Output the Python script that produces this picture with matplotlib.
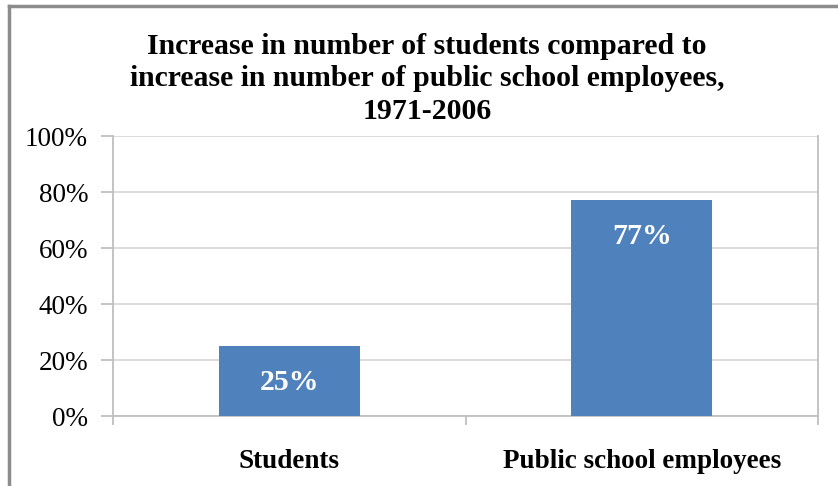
import matplotlib
matplotlib.use("Agg")
import matplotlib.pyplot as plt
from matplotlib.lines import Line2D

categories = ["Students", "Public school employees"]
values = [25, 77]
yticks = [0, 20, 40, 60, 80, 100]
title = "Increase in number of students compared to\nincrease in number of public school employees,\n1971-2006"

plt.rcParams['font.family'] = ['Liberation Serif', 'DejaVu Serif']

W, H = 838, 486
fig = plt.figure(figsize=(W/100, H/100), dpi=100)
ax = fig.add_axes([113/W, 1-416/H, (818-113)/W, (416-136)/H])

x = list(range(len(categories)))
bars = ax.bar(x, values, width=0.4, color="#4F81BD", zorder=3)
ax.set_xlim(-0.5, len(categories)-0.5)
ax.set_ylim(0, 100)
ax.set_yticks(yticks)
ax.set_yticklabels([f"{v}%" for v in yticks], fontsize=19.5)
ax.yaxis.grid(True, color="#D9D9D9", linewidth=1.3, zorder=0)
ax.set_xticks(x)
ax.set_xticklabels(categories, fontsize=19.5, fontweight="bold")
ax.tick_params(axis="x", length=0, pad=24)
ax.tick_params(axis="y", length=9, color="#BFBFBF", width=1.3, pad=9)
for s in ["top"]:
    ax.spines[s].set_visible(False)
for s in ["left", "bottom", "right"]:
    ax.spines[s].set_color("#BFBFBF")
    ax.spines[s].set_linewidth(1.3)

# category separator ticks
for b in [-0.5, 0.5, 1.5]:
    ax.plot([b, b], [0, -2.7], color="#BFBFBF", lw=1.3, clip_on=False, transform=ax.transData)

for rect, v in zip(bars, values):
    ax.text(rect.get_x()+rect.get_width()/2, v-13, f"{v}%", ha="center", va="center",
            color="white", fontsize=21.5, fontweight="bold", zorder=4)

fig.text(427/W, 1-79/H, title, ha="center", va="center", fontsize=21.4, fontweight="bold",
         linespacing=1.27)

# figure border (top & left)
fig.add_artist(Line2D([9/W, 9/W], [0, 1-6/H], transform=fig.transFigure, color="#8C8C8C", lw=2.5))
fig.add_artist(Line2D([9/W, 1], [1-6/H, 1-6/H], transform=fig.transFigure, color="#8C8C8C", lw=2.5))

fig.savefig("out.png", dpi=100)
